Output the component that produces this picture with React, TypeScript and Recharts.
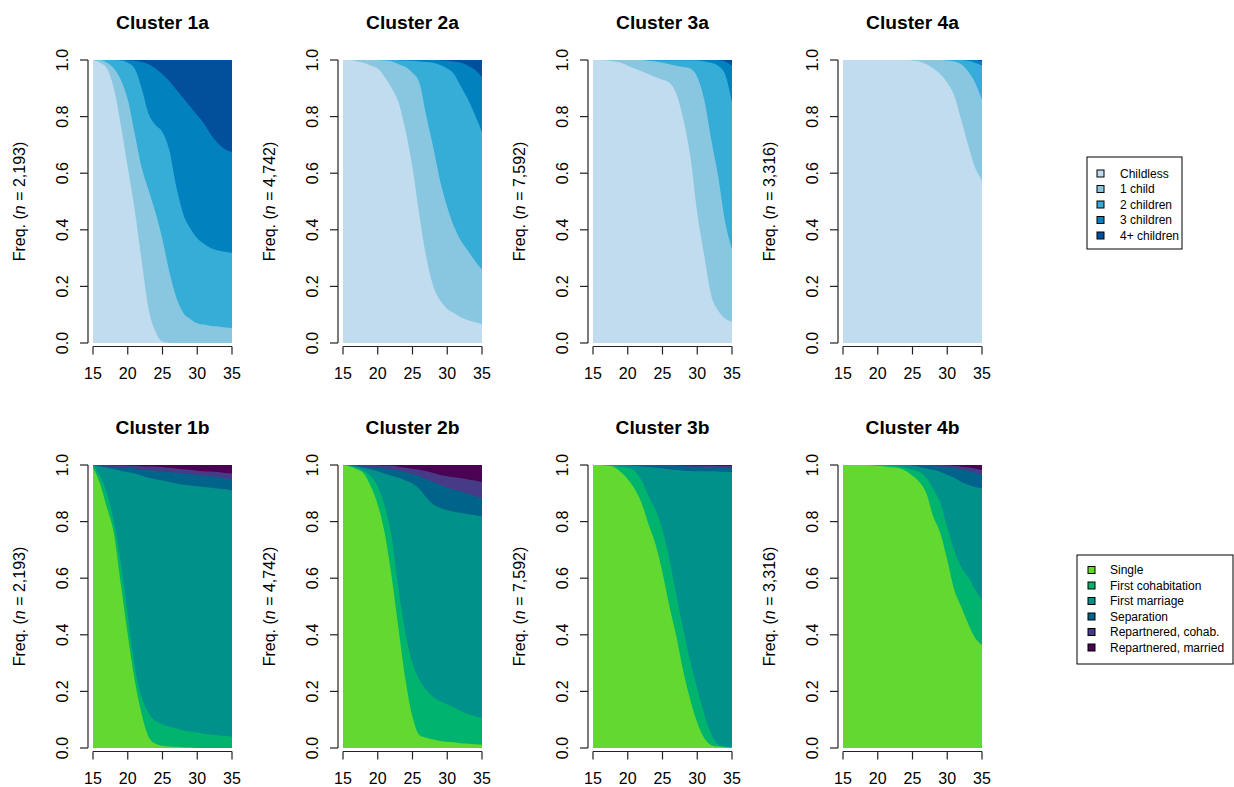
import React from 'react';
import { AreaChart, Area, XAxis, YAxis } from 'recharts';

const ages = [15, 16, 17, 18, 19, 20, 21, 22, 23, 24, 25, 26, 27, 28, 29, 30, 31, 32, 33, 34, 35];
const xTicks = [15, 20, 25, 30, 35];
const yTicks = [0, 0.2, 0.4, 0.6, 0.8, 1];

const childStates = ['Childless', '1 child', '2 children', '3 children', '4+ children'];
const childColors = ['#c1dcee', '#89c7e1', '#35add6', '#0281bf', '#02509b'];
const unionStates = ['Single', 'First cohabitation', 'First marriage', 'Separation', 'Repartnered, cohab.', 'Repartnered, married'];
const unionColors = ['#62d830', '#00b46d', '#00918a', '#00648a', '#473a86', '#4a0252'];

const clusterSizes = ['2,193', '4,742', '7,592', '3,316'];

// cumulative share of states 0..k at each age (last state fills up to 1)
const c1aCum = [
  [1.0, 0.99, 0.97, 0.90, 0.77, 0.62, 0.47, 0.29, 0.12, 0.04, 0.005, 0, 0, 0, 0, 0, 0, 0, 0, 0, 0],
  [1.0, 1.0, 0.99, 0.97, 0.93, 0.86, 0.74, 0.62, 0.54, 0.46, 0.365, 0.25, 0.16, 0.106, 0.085, 0.07, 0.065, 0.06, 0.058, 0.055, 0.053],
  [1, 1, 1, 1, 0.998, 0.99, 0.97, 0.90, 0.81, 0.77, 0.745, 0.68, 0.55, 0.455, 0.405, 0.37, 0.35, 0.335, 0.327, 0.322, 0.318],
  [1, 1, 1, 1, 1, 0.999, 0.997, 0.993, 0.985, 0.97, 0.95, 0.925, 0.895, 0.865, 0.835, 0.805, 0.775, 0.735, 0.705, 0.685, 0.675],
];
const c2aCum = [
  [1.0, 1.0, 0.995, 0.99, 0.98, 0.97, 0.94, 0.90, 0.85, 0.75, 0.62, 0.45, 0.30, 0.20, 0.15, 0.12, 0.105, 0.09, 0.08, 0.073, 0.067],
  [1, 1, 1, 1, 1, 1, 0.998, 0.995, 0.985, 0.975, 0.955, 0.92, 0.80, 0.69, 0.57, 0.48, 0.41, 0.36, 0.325, 0.29, 0.26],
  [1, 1, 1, 1, 1, 1, 1, 1, 0.999, 0.998, 0.997, 0.995, 0.993, 0.99, 0.982, 0.97, 0.95, 0.905, 0.86, 0.805, 0.745],
  [1, 1, 1, 1, 1, 1, 1, 1, 1, 1, 1, 1, 1, 1, 0.999, 0.997, 0.995, 0.99, 0.98, 0.965, 0.94],
];
const c3aCum = [
  [1, 1, 0.998, 0.995, 0.99, 0.98, 0.97, 0.96, 0.95, 0.94, 0.93, 0.92, 0.88, 0.79, 0.66, 0.46, 0.31, 0.17, 0.115, 0.087, 0.075],
  [1, 1, 1, 1, 1, 1, 1, 1, 0.997, 0.995, 0.99, 0.985, 0.98, 0.975, 0.97, 0.94, 0.86, 0.72, 0.59, 0.43, 0.33],
  [1, 1, 1, 1, 1, 1, 0.999, 0.999, 0.999, 0.999, 0.999, 0.999, 0.999, 0.999, 0.999, 0.998, 0.995, 0.99, 0.98, 0.95, 0.85],
  [1, 1, 1, 1, 1, 1, 1, 1, 1, 1, 1, 1, 1, 1, 1, 1, 1, 1, 0.999, 0.995, 0.98],
];
const c4aCum = [
  [1, 1, 1, 1, 1, 1, 1, 1, 1, 1, 0.998, 0.995, 0.985, 0.97, 0.95, 0.92, 0.875, 0.79, 0.70, 0.62, 0.575],
  [1, 1, 1, 1, 1, 1, 1, 1, 1, 1, 1, 1, 1, 1, 1, 0.998, 0.995, 0.985, 0.96, 0.92, 0.86],
  [1, 1, 1, 1, 1, 1, 1, 1, 1, 1, 1, 1, 1, 1, 1, 1, 1, 1, 0.997, 0.99, 0.98],
  [1, 1, 1, 1, 1, 1, 1, 1, 1, 1, 1, 1, 1, 1, 1, 1, 1, 1, 1, 1, 0.995],
];

const c1bCum = [
  [0.99, 0.935, 0.85, 0.76, 0.58, 0.40, 0.24, 0.12, 0.04, 0.015, 0.008, 0.005, 0.004, 0.003, 0.002, 0, 0, 0, 0, 0, 0],
  [1.0, 0.96, 0.90, 0.80, 0.655, 0.47, 0.29, 0.18, 0.125, 0.095, 0.083, 0.075, 0.07, 0.062, 0.058, 0.055, 0.05, 0.047, 0.045, 0.042, 0.04],
  [1.0, 0.995, 0.99, 0.985, 0.98, 0.975, 0.97, 0.962, 0.955, 0.95, 0.945, 0.94, 0.935, 0.93, 0.928, 0.925, 0.922, 0.92, 0.917, 0.914, 0.91],
  [1.0, 0.998, 0.995, 0.993, 0.99, 0.99, 0.988, 0.985, 0.982, 0.98, 0.977, 0.975, 0.972, 0.97, 0.967, 0.965, 0.962, 0.96, 0.957, 0.953, 0.95],
  [1.0, 1.0, 1.0, 0.999, 0.999, 0.998, 0.997, 0.996, 0.995, 0.995, 0.993, 0.99, 0.988, 0.985, 0.983, 0.98, 0.978, 0.977, 0.975, 0.972, 0.97],
];
const c2bCum = [
  [1.0, 0.995, 0.985, 0.97, 0.925, 0.86, 0.76, 0.605, 0.42, 0.24, 0.11, 0.046, 0.036, 0.03, 0.025, 0.022, 0.02, 0.017, 0.015, 0.013, 0.012],
  [1.0, 0.998, 0.99, 0.98, 0.96, 0.925, 0.855, 0.747, 0.56, 0.405, 0.30, 0.24, 0.205, 0.18, 0.165, 0.155, 0.143, 0.13, 0.12, 0.112, 0.105],
  [1.0, 0.998, 0.995, 0.99, 0.985, 0.978, 0.97, 0.962, 0.955, 0.945, 0.935, 0.915, 0.885, 0.86, 0.848, 0.84, 0.835, 0.83, 0.826, 0.822, 0.818],
  [1.0, 1.0, 0.998, 0.995, 0.993, 0.99, 0.988, 0.985, 0.98, 0.975, 0.968, 0.96, 0.95, 0.94, 0.93, 0.92, 0.913, 0.906, 0.898, 0.89, 0.882],
  [1.0, 1.0, 1.0, 1.0, 1.0, 0.999, 0.998, 0.997, 0.994, 0.99, 0.987, 0.983, 0.978, 0.972, 0.965, 0.96, 0.957, 0.953, 0.949, 0.945, 0.94],
];
const c3bCum = [
  [1.0, 1.0, 0.998, 0.993, 0.975, 0.95, 0.915, 0.865, 0.79, 0.72, 0.62, 0.50, 0.394, 0.27, 0.17, 0.09, 0.035, 0.01, 0.005, 0.003, 0.002],
  [1.0, 1.0, 1.0, 0.998, 0.993, 0.99, 0.978, 0.945, 0.89, 0.84, 0.77, 0.665, 0.54, 0.42, 0.305, 0.21, 0.12, 0.05, 0.012, 0.005, 0.003],
  [1, 1, 1, 1, 1, 0.999, 0.997, 0.995, 0.993, 0.99, 0.988, 0.985, 0.982, 0.98, 0.979, 0.978, 0.978, 0.978, 0.977, 0.976, 0.975],
  [1, 1, 1, 1, 1, 1, 1, 1, 1, 1, 0.998, 0.997, 0.997, 0.996, 0.995, 0.994, 0.993, 0.993, 0.992, 0.991, 0.99],
  [1, 1, 1, 1, 1, 1, 1, 1, 1, 1, 1, 1, 1, 0.999, 0.999, 0.998, 0.998, 0.998, 0.997, 0.997, 0.997],
];
const c4bCum = [
  [1, 1, 1, 1, 0.999, 0.997, 0.995, 0.992, 0.989, 0.98, 0.962, 0.94, 0.9, 0.817, 0.76, 0.665, 0.56, 0.50, 0.44, 0.39, 0.364],
  [1, 1, 1, 1, 1, 1, 1, 0.998, 0.996, 0.99, 0.983, 0.975, 0.955, 0.915, 0.865, 0.78, 0.70, 0.64, 0.605, 0.56, 0.523],
  [1, 1, 1, 1, 1, 1, 1, 1, 1, 1, 0.997, 0.993, 0.988, 0.982, 0.976, 0.965, 0.955, 0.94, 0.93, 0.922, 0.918],
  [1, 1, 1, 1, 1, 1, 1, 1, 1, 1, 1, 1, 1, 0.997, 0.995, 0.993, 0.99, 0.985, 0.98, 0.973, 0.965],
  [1, 1, 1, 1, 1, 1, 1, 1, 1, 1, 1, 1, 1, 1, 1, 0.999, 0.997, 0.995, 0.992, 0.988, 0.982],
];

const topRow = [
  { title: 'Cluster 1a', cum: c1aCum },
  { title: 'Cluster 2a', cum: c2aCum },
  { title: 'Cluster 3a', cum: c3aCum },
  { title: 'Cluster 4a', cum: c4aCum },
];
const bottomRow = [
  { title: 'Cluster 1b', cum: c1bCum },
  { title: 'Cluster 2b', cum: c2bCum },
  { title: 'Cluster 3b', cum: c3bCum },
  { title: 'Cluster 4b', cum: c4bCum },
];

const FONT = '"Liberation Sans", Arial, Helvetica, sans-serif';
const PANEL_W = 250;
const PLOT_LEFT = 93;
const PLOT_W = 139;
const PLOT_TOP = 60;
const PLOT_H = 283;
const BOTTOM_M = 48;
const ROW_TOPS = [0, 405];
const XGAP = 3.5;
const YGAP = 5;
const TICK = 8;
const AXIS = '#222';

function XTick(props: any) {
  const { x, y, payload } = props;
  return (
    <g>
      {payload.value === 15 && (
        <line x1={x} x2={x + PLOT_W} y1={y + XGAP} y2={y + XGAP} stroke={AXIS} strokeWidth={1.2} />
      )}
      <line x1={x} x2={x} y1={y + XGAP} y2={y + XGAP + TICK} stroke={AXIS} strokeWidth={1.2} />
      <text x={x} y={y + 36} textAnchor="middle" fontSize={16} fontFamily={FONT} fill="#000">
        {payload.value}
      </text>
    </g>
  );
}

function YTick(props: any) {
  const { x, y, payload } = props;
  const lx = x - YGAP;
  const tx = x - 25;
  return (
    <g>
      {payload.value === 0 && <line x1={lx} x2={lx} y1={y} y2={y - PLOT_H} stroke={AXIS} strokeWidth={1.2} />}
      <line x1={lx} x2={lx - TICK} y1={y} y2={y} stroke={AXIS} strokeWidth={1.2} />
      <text x={tx} y={y} transform={`rotate(-90 ${tx} ${y})`} textAnchor="middle" fontSize={16} fontFamily={FONT} fill="#000">
        {Number(payload.value).toFixed(1)}
      </text>
    </g>
  );
}

function Panel({ cum, colors, left, top }: { cum: number[][]; colors: string[]; left: number; top: number }) {
  const data = ages.map((age, i) => {
    const row: Record<string, number> = { age, top: 1 };
    cum.forEach((arr, k) => {
      row['c' + k] = arr[i];
    });
    return row;
  });
  const keys = [...cum.map((_, k) => 'c' + k), 'top'];
  const order = keys.map((key, k) => ({ key, color: colors[k] })).reverse();

  return (
    <div style={{ position: 'absolute', left, top }}>
      <AreaChart
        width={PANEL_W}
        height={PLOT_TOP + PLOT_H + BOTTOM_M + 1}
        data={data}
        margin={{ top: PLOT_TOP, right: PANEL_W - PLOT_LEFT - PLOT_W, bottom: BOTTOM_M, left: PLOT_LEFT - 1 }}
      >
        <XAxis
          dataKey="age"
          type="number"
          domain={[15, 35]}
          ticks={xTicks}
          interval={0}
          height={1}
          axisLine={false}
          tickLine={false}
          tickSize={0}
          tickMargin={0}
          tick={<XTick />}
        />
        <YAxis
          type="number"
          domain={[0, 1]}
          ticks={yTicks}
          interval={0}
          width={1}
          axisLine={false}
          tickLine={false}
          tickSize={0}
          tickMargin={0}
          tick={<YTick />}
        />
        {order.map((s) => (
          <Area
            key={s.key}
            dataKey={s.key}
            type="monotone"
            stroke="none"
            fill={s.color}
            fillOpacity={1}
            dot={false}
            activeDot={false}
            isAnimationActive={false}
          />
        ))}
      </AreaChart>
    </div>
  );
}

function Legend({ x, y, w, h, names, colors, rowY, swatchX, textX }: any) {
  return (
    <g>
      <rect x={x} y={y} width={w} height={h} fill="#fff" stroke="#000" strokeWidth={1} />
      {names.map((name: string, i: number) => (
        <g key={name}>
          <rect x={swatchX} y={rowY + i * 15.5 - 3.5} width={7} height={7} fill={colors[i]} stroke="#000" strokeWidth={1} />
          <text x={textX} y={rowY + i * 15.5 + 4.3} fontSize={12} fontFamily={FONT} fill="#000">
            {name}
          </text>
        </g>
      ))}
    </g>
  );
}

export default function App() {
  return (
    <div style={{ position: 'absolute', left: 0, top: 0, width: 1234, height: 787, overflow: 'hidden', background: '#fff' }}>
      {topRow.map((p, i) => (
        <Panel key={p.title} cum={p.cum} colors={childColors} left={i * PANEL_W} top={ROW_TOPS[0]} />
      ))}
      {bottomRow.map((p, i) => (
        <Panel key={p.title} cum={p.cum} colors={unionColors} left={i * PANEL_W} top={ROW_TOPS[1]} />
      ))}
      <svg width={1234} height={787} style={{ position: 'absolute', left: 0, top: 0, pointerEvents: 'none' }}>
        {[topRow, bottomRow].map((row, r) =>
          row.map((p, i) => {
            const cx = i * PANEL_W + PLOT_LEFT + PLOT_W / 2;
            const plotTop = ROW_TOPS[r] + PLOT_TOP;
            const cy = plotTop + PLOT_H / 2;
            const lx = i * PANEL_W + 25;
            return (
              <g key={p.title}>
                <text x={cx} y={plotTop - 31} textAnchor="middle" fontSize={19.2} fontWeight="bold" fontFamily={FONT}>
                  {p.title}
                </text>
                <text x={lx} y={cy} transform={`rotate(-90 ${lx} ${cy})`} textAnchor="middle" fontSize={16} fontFamily={FONT}>
                  Freq. (<tspan fontStyle="italic">n</tspan> = {clusterSizes[i]})
                </text>
              </g>
            );
          })
        )}
        <Legend x={1087} y={157} w={95} h={92} names={childStates} colors={childColors} rowY={173.5} swatchX={1097} textX={1120} />
        <Legend x={1077} y={555} w={156} h={109} names={unionStates} colors={unionColors} rowY={570} swatchX={1088} textX={1110} />
      </svg>
    </div>
  );
}
